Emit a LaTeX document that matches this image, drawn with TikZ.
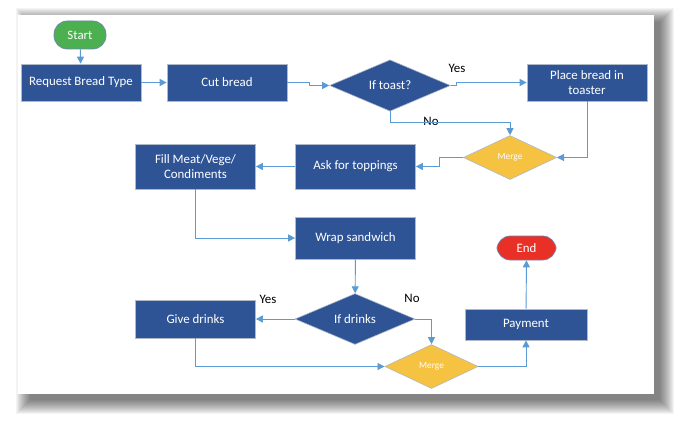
\documentclass[tikz,border=0pt]{standalone}
\usepackage{fontspec}
\setmainfont{Carlito}
\usetikzlibrary{shapes.geometric,arrows.meta}
\definecolor{boxblue}{RGB}{47,84,150}
\definecolor{edgeblue}{RGB}{91,155,213}
\definecolor{startgreen}{RGB}{76,175,80}
\definecolor{endred}{RGB}{232,48,38}
\definecolor{mergegold}{RGB}{245,194,66}
\definecolor{rimgray}{RGB}{175,185,200}

\begin{document}
\begin{tikzpicture}[x=0.03cm,y=-0.03cm,
	proc/.style={rectangle, draw=rimgray, line width=0.6pt, fill=boxblue, text=white,
		font=\fontsize{11}{13}\selectfont, align=center, inner sep=1pt,
		minimum width=3.6cm, minimum height=1.11cm},
	decision/.style={diamond, draw=rimgray, line width=0.5pt, fill=boxblue, text=white,
		font=\fontsize{11}{13}\selectfont, inner sep=0pt},
	merge/.style={diamond, draw=rimgray, line width=0.5pt, fill=mergegold, text=white,
		font=\fontsize{8}{9}\selectfont, inner sep=0pt,
		minimum width=2.8cm, minimum height=1.32cm},
	term/.style={rectangle, rounded corners=0.4cm, draw=boxblue!70, line width=0.6pt, text=white,
		font=\fontsize{11}{13}\selectfont, inner sep=1pt},
	flow/.style={draw=edgeblue, line width=0.8pt, -{Triangle[length=6pt,width=6pt]}},
	tag/.style={font=\fontsize{11}{13}\selectfont, inner sep=0pt}]
	%%%%% START %%%%%
	
	\useasboundingbox (0,0) rectangle (685,425);
	
	% canvas with shadow
	\foreach \r in {0,...,14}
		\fill[black, opacity=0.045] (30-\r,22-\r) rectangle (660+\r,400+\r);
	\fill[white] (17,15) rectangle (654,394);
	\draw[blue!6, line width=1pt] (17.5,15) -- (17.5,394);
	
	\node[term, fill=startgreen, minimum width=1.56cm, minimum height=0.84cm] (start) at (80,35) {Start};
	\node[proc] (request) at (81,82.5) {Request Bread Type};
	\node[proc] (cut) at (227,82.5) {Cut bread};
	\node[decision, minimum width=3.63cm, minimum height=1.53cm] (toast) at (390,85.5) {If toast?};
	\node[proc] (toaster) at (587,82.5) {Place bread in\\toaster};
	\node[merge] (merge1) at (510,157.5) {Merge};
	
	\node[proc, minimum height=1.35cm] (toppings) at (355.5,166.5) {Ask for toppings};
	\node[proc, minimum height=1.35cm] (fill) at (195.5,166.5) {Fill Meat/Vege/\\Condiments};
	\node[proc, minimum height=1.26cm] (wrap) at (355.5,238) {Wrap sandwich};
	
	\node[decision, minimum width=3.6cm, minimum height=1.35cm] (drinks) at (355,319) {If drinks};
	\node[proc, minimum height=1.14cm] (give) at (195.5,319) {Give drinks};
	\node[merge] (merge2) at (431.5,366.5) {Merge};
	\node[proc, minimum width=3.66cm, minimum height=0.93cm] (payment) at (526,324.5) {Payment};
	\node[term, fill=endred, minimum width=1.77cm, minimum height=0.72cm] (end) at (526.5,248) {End};
	
	\node[tag] (yes1) at (457,68) {Yes};
	\node[tag] (no1) at (431,121) {No};
	\node[tag] (yes2) at (268,299) {Yes};
	\node[tag] (no2) at (412,298) {No};
	
	\draw[flow] (start) -- (request);
	\draw[flow] (request) -- (cut);
	\draw[flow] (cut.east) -- ++(22,0) |- (toast.west);
	\draw[flow] (toast.east) -- ++(6,0) |- (toaster.west);
	\draw[flow] (toast.south) -- ++(0,11) -| (merge1.north);
	\draw[flow] (toaster.south) |- (merge1.east);
	\draw[flow] (merge1.west) -- ++(-24,0) |- (toppings.east);
	\draw[flow] (toppings) -- (fill);
	\draw[flow] (fill.south) |- (wrap.west);
	\draw[flow] (wrap) -- (drinks);
	\draw[flow] (drinks.west) -- (give.east);
	\draw[flow] (drinks.east) -| (merge2.north);
	\draw[flow] (give.south) |- (merge2.west);
	\draw[flow] (merge2.east) -| (payment.south);
	\draw[flow] (payment) -- (end);
	
	%%%%% END %%%%%
\end{tikzpicture}
\end{document}
